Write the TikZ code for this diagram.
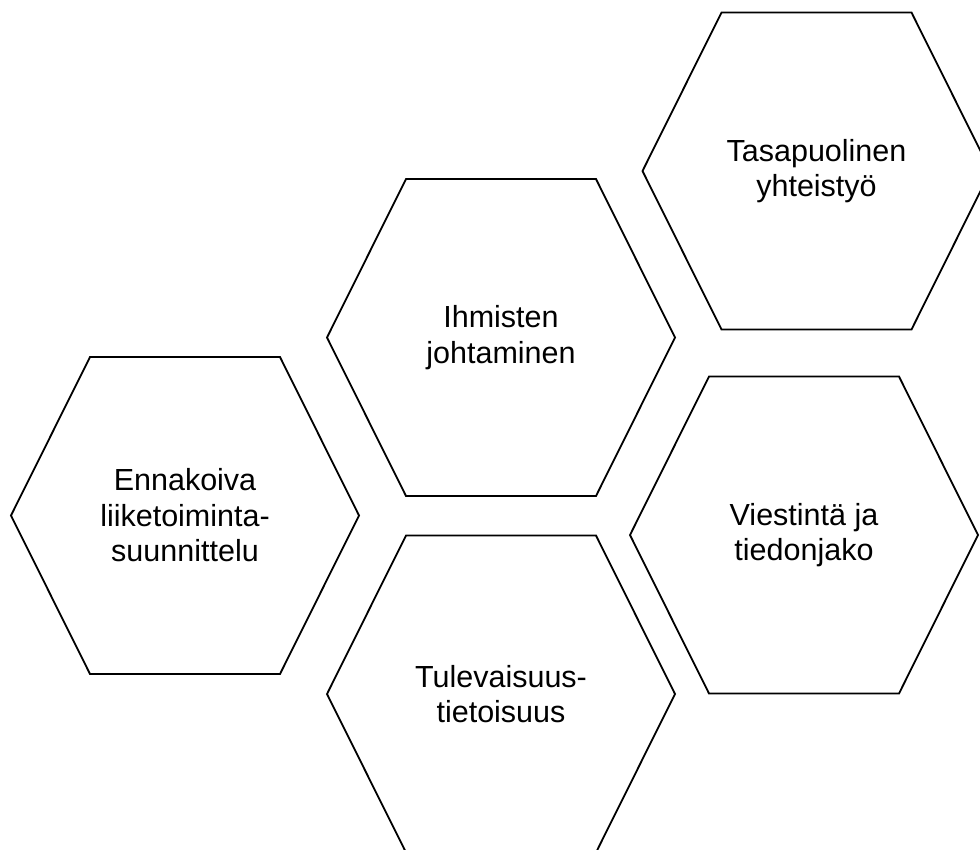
\documentclass[tikz,border=0pt]{standalone}
\usepackage{fontspec}
\setmainfont{Liberation Sans}
\begin{document}
\begin{tikzpicture}[x=1pt, y=-1pt,
    hexlabel/.style={align=center, font=\fontsize{30.5}{35.5}\selectfont},
    hexline/.style={line width=1.8pt, line join=miter}]
    % Frame of the picture
    \useasboundingbox (0,0) rectangle (980,849);
    \clip (0,0) rectangle (980,849);

    % Hexagons with their labels
    \foreach \cx/\cy/\name/\txt in {
        185/515.5/ennakoiva/{Ennakoiva\\liiketoiminta-\\suunnittelu},
        501/337.5/ihmiset/{Ihmisten\\johtaminen},
        816.5/171/yhteistyo/{Tasapuolinen\\yhteistyö},
        804/535/viestinta/{Viestintä ja\\tiedonjako},
        501/694/tulevaisuus/{Tulevaisuus-\\tietoisuus}} {
        \draw[hexline] (\cx-174,\cy) -- (\cx-95,\cy-158.5) -- (\cx+95,\cy-158.5)
            -- (\cx+174,\cy) -- (\cx+95,\cy+158.5) -- (\cx-95,\cy+158.5) -- cycle;
        \node[hexlabel] (\name) at (\cx,\cy) {\txt};
    }
\end{tikzpicture}
\end{document}
